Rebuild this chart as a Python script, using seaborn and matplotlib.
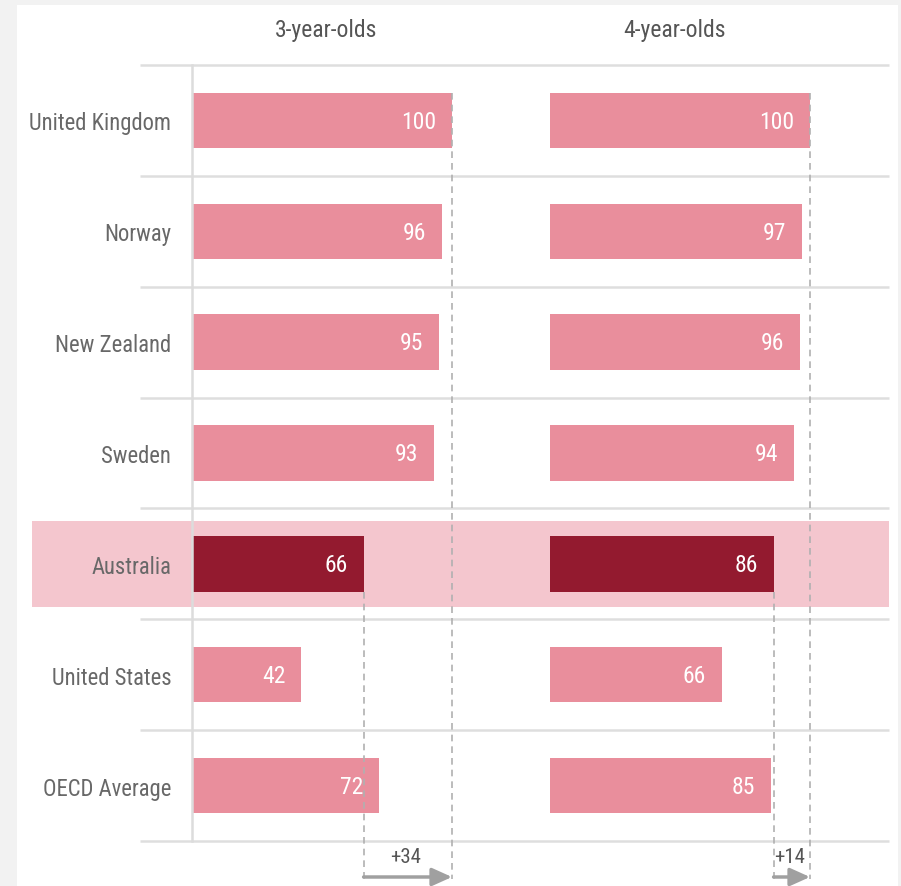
import matplotlib
matplotlib.use("Agg")
import matplotlib.pyplot as plt
import pandas as pd
import seaborn as sns
from matplotlib.patches import Rectangle

# Enrolment rates in early childhood education (%)
countries = ["United Kingdom", "Norway", "New Zealand", "Sweden",
             "Australia", "United States", "OECD Average"]
age3 = [100, 96, 95, 93, 66, 42, 72]
age4 = [100, 97, 96, 94, 86, 66, 85]
panel_titles = ["3-year-olds", "4-year-olds"]
highlight = "Australia"

sns.set_theme(style="white")
plt.rcParams["font.family"] = ["Roboto Condensed", "Liberation Sans", "DejaVu Sans"]

BAR = "#e98e9c"
BAR_HI = "#931a2f"
BAND = "#f4c6ce"
RULE = "#dedede"
LABEL = "#686868"
HEAD = "#555555"
FS = 17

W, H = 901, 887
fig = plt.figure(figsize=(W / 100, H / 100), dpi=100)
fig.patch.set_facecolor("#f2f2f2")


def fx(px):
    return px / W


def fy(py):
    return 1 - py / H


# layout in pixels
top, bottom = 66, 842
n = len(countries)
row_h = (bottom - top) / n
px_per_unit = 2.6

# background layer: white card, highlight band, row separators
bg = fig.add_axes([0, 0, 1, 1], zorder=0)
bg.set_xlim(0, W)
bg.set_ylim(H, 0)
bg.axis("off")
bg.add_patch(Rectangle((17, 6), 898 - 17, H, color="white", lw=0))
hi = countries.index(highlight)
band_c = top + (hi + 0.5) * row_h
bg.add_patch(Rectangle((32, band_c - 0.39 * row_h), 889 - 32, 0.78 * row_h,
                       color=BAND, lw=0))
for i in range(n + 1):
    y = top + i * row_h
    bg.plot([140, 889], [y, y], color=RULE, lw=1.8, solid_capstyle="butt")

# panel axes
ax1_left, ax1_xmax = 192, 110
ax2_left, ax2_xmin = 498, -20
ax2_xmax = (889 - 550) / px_per_unit
ax1 = fig.add_axes([fx(ax1_left), fy(bottom), ax1_xmax * px_per_unit / W, (bottom - top) / H],
                   zorder=1)
ax2 = fig.add_axes([fx(ax2_left), fy(bottom), (ax2_xmax - ax2_xmin) * px_per_unit / W,
                    (bottom - top) / H], zorder=1)

palette = {c: (BAR_HI if c == highlight else BAR) for c in countries}
y_low = n - 0.5 + (880 - bottom) / row_h
y_arrow = n - 0.5 + (878 - bottom) / row_h
y_delta = n - 0.5 + (858 - bottom) / row_h

for ax, vals, xlim in [(ax1, age3, (0, ax1_xmax)),
                       (ax2, age4, (ax2_xmin, ax2_xmax))]:
    df = pd.DataFrame({"country": countries, "value": vals})
    if ax is ax2:
        ax.grid(axis="y", color="#f0f0f0", lw=1.5)
        ax.set_axisbelow(True)
    sns.barplot(data=df, x="value", y="country", hue="country", palette=palette,
                order=countries, hue_order=countries, width=0.5, saturation=1,
                legend=False, ax=ax, edgecolor="none", linewidth=0)
    ax.set_facecolor("none")
    ax.set_xlim(*xlim)
    ax.set_ylim(n - 0.5, -0.5)
    ax.set_xlabel("")
    ax.set_ylabel("")
    ax.set_xticks([])
    for s in ax.spines.values():
        s.set_visible(False)

    for i, v in enumerate(vals):
        ax.annotate(f"{v}", (v, i), xytext=(-11.5, -0.6), textcoords="offset points",
                    ha="right", va="center", color="white", fontsize=FS)

    # gap between the highlighted country and the top value
    v_top = vals[0]
    v_hi = vals[hi]
    ax.plot([v_top, v_top], [-0.25, y_low], color="#b0b0b0", lw=1.2,
            dashes=(4, 3), clip_on=False, zorder=3)
    ax.plot([v_hi, v_hi], [hi + 0.25, y_low], color="#b0b0b0", lw=1.2,
            dashes=(4, 3), clip_on=False, zorder=3)
    ax.annotate("", xy=(v_top, y_arrow), xytext=(v_hi, y_arrow),
                arrowprops=dict(arrowstyle="-|>,head_length=1.0,head_width=0.45",
                                color="#a0a0a0", lw=2.5, shrinkA=0, shrinkB=0),
                annotation_clip=False)
    ax.text((v_top + v_hi) / 2 - 0.8, y_delta, f"+{v_top - v_hi}", ha="center",
            va="center", color=HEAD, fontsize=15, clip_on=False)

ax1.spines["left"].set_visible(True)
ax1.spines["left"].set_color("#dcdcdc")
ax1.spines["left"].set_linewidth(1.8)
ax1.tick_params(axis="y", length=0, pad=15, labelsize=16.3, labelcolor=LABEL)
ax2.set_yticklabels([])
ax2.tick_params(axis="y", length=0)

# panel headers
bg.text(326, 31, panel_titles[0], ha="center", va="center", color=HEAD, fontsize=FS)
bg.text(674, 31, panel_titles[1], ha="center", va="center", color=HEAD, fontsize=FS)

fig.savefig("out.png", dpi=100, facecolor=fig.get_facecolor())
